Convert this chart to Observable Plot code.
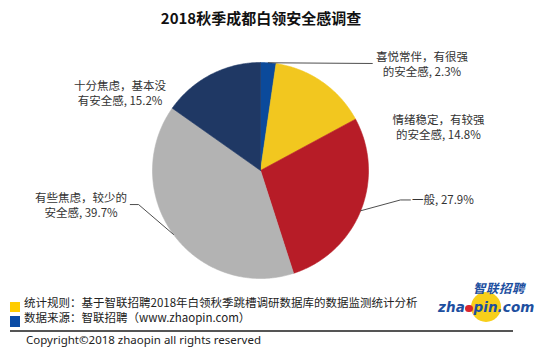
<!DOCTYPE html>
<html>
<head>
<meta charset="utf-8">
<script src="https://cdn.jsdelivr.net/npm/d3@7"></script>
<script src="https://cdn.jsdelivr.net/npm/@observablehq/plot@0.6"></script>
<style>
  html, body { margin: 0; padding: 0; background: #fff; }
  #page { position: relative; width: 540px; height: 357px; overflow: hidden; background: #fff;
          font-family: "Noto Sans CJK SC", "Noto Sans", sans-serif; color: #222; }
  .abs { position: absolute; white-space: nowrap; }
  #title { left: 0; top: 0; width: 522px; text-align: center; line-height: 36px; font-size: 15px; font-weight: bold; color: #111; }
  #chart { left: 0; top: 36px; }
  .foot { font-size: 11.5px; line-height: 14px; color: #222; }
</style>
</head>
<body>
<div id="page">
  <div id="title" class="abs"></div>
  <div id="chart" class="abs"></div>
  <div class="abs" style="left:10px;top:302px;width:10px;height:10px;background:#ffcc00"></div>
  <div id="note1" class="abs foot" style="left:24px;top:295px"></div>
  <div class="abs" style="left:10px;top:316px;width:10px;height:11px;background:#0a4ca6"></div>
  <div id="note2" class="abs foot" style="left:24px;top:310px"></div>
  <div class="abs" style="left:10px;top:330px;width:503px;height:1.5px;background:#555"></div>
  <div id="copy" class="abs" style="left:26px;top:333px;font-family:'Noto Sans',sans-serif;font-size:11.5px;line-height:14px;color:#222"></div>
  <!-- logo -->
  <div class="abs" style="left:471px;top:292px;width:30px;height:30px;border-radius:50%;background:#f7cf1a"></div>
  <div class="abs" style="left:473px;top:281px;font-size:12.5px;font-weight:bold;font-style:italic;color:#1d4f9f;line-height:13px;letter-spacing:0.5px">智联招聘</div>
  <div class="abs" style="left:438px;top:301px;font-family:'DejaVu Sans',sans-serif;font-size:13.5px;font-weight:bold;font-style:italic;color:#1d4f9f;line-height:13px;letter-spacing:0.1px">zha<span style="display:inline-block;width:7.5px;height:7.5px;border-radius:50%;background:#d8262e;margin:0 0.5px"></span>pin.com</div>
</div>
<script>
// ---------- data ----------
const title = "2018秋季成都白领安全感调查";
const categories = ["喜悦常伴，有很强的安全感", "情绪稳定，有较强的安全感", "一般", "有些焦虑，较少的安全感", "十分焦虑，基本没有安全感"];
const labelNames = ["喜悦常伴，有很强\n的安全感", "情绪稳定，有较强\n的安全感", "一般", "有些焦虑，较少的\n安全感", "十分焦虑，基本没\n有安全感"];
const values = [2.3, 14.8, 27.9, 39.7, 15.2];
const colors = ["#0b4a9b", "#f2c71f", "#b71c27", "#b3b3b3", "#1f3864"];
const note1 = "统计规则：基于智联招聘2018年白领秋季跳槽调研数据库的数据监测统计分析";
const note2 = "数据来源：智联招聘（www.zhaopin.com）";
const copyright = "Copyright©2018 zhaopin all rights reserved";

// ---------- layout ----------
const R = 108;               // pie radius in px
const W = 540, H = 254;
const cx = 260, cy = 134;    // pie centre inside the svg
// label placement: pixel offsets from each slice's arc midpoint
const labelLayout = [
  {leader: [[0, 0], [104, 0.7]], text: [153.7, 1], anchor: "middle"},
  {leader: null, text: [116, 45], anchor: "middle"},
  {leader: [[0, 0], [39.7, -10.8], [49.7, -10.8]], text: [51.4, -11.8], anchor: "start"},
  {leader: [[0, 0], [-34.9, -29.9], [-43.2, -29.9]], text: [-92.4, -29.6], anchor: "middle"},
  {leader: null, text: [-90.8, 18.1], anchor: "middle"}
];

document.getElementById("title").textContent = title;
document.getElementById("note1").textContent = note1;
document.getElementById("note2").textContent = note2;
document.getElementById("copy").textContent = copyright;

const arcs = d3.pie().sort(null).value(d => d)(values);

// slice polygons in unit coordinates (angle 0 = 12 o'clock, clockwise)
const slicePts = [];
arcs.forEach((a, i) => {
  const n = Math.max(2, Math.ceil((a.endAngle - a.startAngle) / 0.01));
  slicePts.push({category: categories[i], x: 0, y: 0});
  for (let k = 0; k <= n; k++) {
    const t = a.startAngle + (a.endAngle - a.startAngle) * k / n;
    slicePts.push({category: categories[i], x: Math.sin(t), y: Math.cos(t)});
  }
  slicePts.push({category: categories[i], x: 0, y: 0});
});

const leaderPts = [];
const labelRows = [];
arcs.forEach((a, i) => {
  const mid = (a.startAngle + a.endAngle) / 2;
  const ax = Math.sin(mid), ay = Math.cos(mid);
  const L = labelLayout[i];
  if (L.leader) L.leader.forEach(([dx, dy]) => leaderPts.push({slice: i, x: ax + dx / R, y: ay - dy / R}));
  labelRows.push({
    x: ax + L.text[0] / R, y: ay - L.text[1] / R,
    text: labelNames[i] + ", " + values[i] + "%",
    anchor: L.anchor
  });
});

const plot = Plot.plot({
  width: W, height: H,
  marginLeft: cx - R, marginRight: W - cx - R,
  marginTop: cy - R, marginBottom: H - cy - R,
  x: {domain: [-1, 1], axis: null},
  y: {domain: [-1, 1], axis: null},
  color: {domain: categories, range: colors},
  style: {fontFamily: "'Noto Sans CJK SC', 'Noto Sans', sans-serif", background: "transparent", overflow: "visible"},
  marks: [
    Plot.line(slicePts, {x: "x", y: "y", z: "category", fill: "category", stroke: "category", strokeWidth: 0.6, curve: "linear"}),
    Plot.line(leaderPts, {x: "x", y: "y", z: "slice", stroke: "#3a3a3a", strokeWidth: 0.9}),
    Plot.text(labelRows.filter(d => d.anchor === "middle"), {x: "x", y: "y", text: "text", textAnchor: "middle", fontSize: 11.5, lineHeight: 1.28, fill: "#333"}),
    Plot.text(labelRows.filter(d => d.anchor === "start"), {x: "x", y: "y", text: "text", textAnchor: "start", fontSize: 11.5, lineHeight: 1.28, fill: "#333"})
  ]
});
document.getElementById("chart").appendChild(plot);
</script>
</body>
</html>
